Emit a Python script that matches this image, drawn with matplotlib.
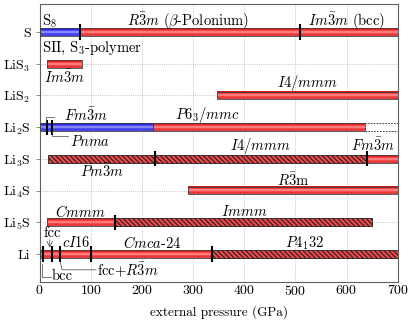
import numpy as np
import matplotlib
matplotlib.use("Agg")
import matplotlib.pyplot as plt
import matplotlib.patches as patches
from matplotlib.colors import LinearSegmentedColormap

plt.rcParams['font.family'] = 'serif'
plt.rcParams['font.serif'] = ['cmr10']
plt.rcParams['mathtext.fontset'] = 'cm'
plt.rcParams['axes.formatter.use_mathtext'] = True
plt.rcParams['hatch.linewidth'] = 0.8

# compounds, bottom to top
compounds = ['Li', 'Li$_5$S', 'Li$_4$S', 'Li$_3$S', 'Li$_2$S', 'LiS$_2$', 'LiS$_3$', 'S']

# phase segments per compound: (start GPa, end GPa, kind)
segments = {
    'S': [(0, 80, 'blue'), (80, 700, 'red')],
    'LiS$_3$': [(15, 83, 'red')],
    'LiS$_2$': [(347, 700, 'red')],
    'Li$_2$S': [(0, 222, 'blue'), (222, 637, 'red'), (637, 700, 'dashed')],
    'Li$_3$S': [(17, 640, 'hatch'), (640, 700, 'red')],
    'Li$_4$S': [(290, 700, 'red')],
    'Li$_5$S': [(15, 148, 'red'), (148, 650, 'hatch')],
    'Li': [(0, 337, 'red'), (337, 700, 'hatch')],
}

# phase transitions (GPa)
transitions = {
    'S': [80, 510],
    'Li$_2$S': [15, 24],
    'Li$_3$S': [226, 640],
    'Li$_5$S': [148],
    'Li': [6, 24, 40, 100, 337],
}

# phase names: (compound, x GPa, y offset, text, ha)
phase_labels = [
    ('S', 5, 0.33, 'S$_8$', 'left'),
    ('S', 290, 0.33, r'$R\bar{3}m$ ($\beta$-Polonium)', 'center'),
    ('S', 600, 0.33, r'$Im\bar{3}m$ (bcc)', 'center'),
    ('S', 5, -0.51, 'SII, S$_3$-polymer', 'left'),
    ('LiS$_3$', 48, -0.43, r'$Im\bar{3}m$', 'center'),
    ('LiS$_2$', 523, 0.38, r'$I4/mmm$', 'center'),
    ('Li$_2$S', 47, 0.38, r'$Fm\bar{3}m$', 'left'),
    ('Li$_2$S', 59, -0.44, r'$Pnma$', 'left'),
    ('Li$_2$S', 327, 0.38, r'$P6_3/mmc$', 'center'),
    ('Li$_3$S', 121, -0.40, r'$Pm\bar{3}m$', 'center'),
    ('Li$_3$S', 432, 0.42, r'$I4/mmm$', 'center'),
    ('Li$_3$S', 651, 0.42, r'$Fm\bar{3}m$', 'center'),
    ('Li$_4$S', 496, 0.33, r'$R\bar{3}$m', 'center'),
    ('Li$_5$S', 80, 0.33, r'$Cmmm$', 'center'),
    ('Li$_5$S', 400, 0.33, r'$Immm$', 'center'),
    ('Li', 72, 0.35, r'$cI16$', 'center'),
    ('Li', 220, 0.35, r'$Cmca$-24', 'center'),
    ('Li', 518, 0.35, r'$P4_132$', 'center'),
    ('Li', 25, 0.65, 'fcc', 'center'),
    ('Li', 24, -0.70, 'bcc', 'left'),
    ('Li', 112, -0.50, r'fcc+$R\bar{3}m$', 'left'),
]

red_cmap = LinearSegmentedColormap.from_list(
    'redbar', ['#e04545', '#f03030', '#ff9c9c', '#f42c2c', '#c81010'])
blue_cmap = LinearSegmentedColormap.from_list(
    'bluebar', ['#5050e0', '#3535f0', '#a8a8ff', '#3030f4', '#1010c0'])

fig = plt.figure(figsize=(4.16, 3.27), dpi=100)
ax = fig.add_axes([0.095, 0.1385, 0.861, 0.849])

h = 0.24
grad = np.linspace(0, 1, 64).reshape(-1, 1)
ypos = {c: i + 1 for i, c in enumerate(compounds)}

for c in compounds:
    y = ypos[c]
    for x0, x1, kind in segments[c]:
        if kind in ('red', 'blue'):
            ax.imshow(grad, extent=[x0, x1, y - h / 2, y + h / 2], origin='lower',
                      aspect='auto', cmap=red_cmap if kind == 'red' else blue_cmap,
                      zorder=2, interpolation='bilinear')
            ax.add_patch(patches.Rectangle((x0, y - h / 2), x1 - x0, h, fill=False,
                                           edgecolor='#404040', lw=0.6, zorder=3))
        elif kind == 'hatch':
            ax.add_patch(patches.Rectangle((x0, y - h / 2), x1 - x0, h, facecolor='#f04848',
                                           edgecolor='#202020', hatch='\\\\\\\\\\\\\\',
                                           lw=0.6, zorder=3))
        else:
            ax.add_patch(patches.Rectangle((x0, y - h / 2), x1 - x0, h, facecolor='white',
                                           edgecolor='#202020', ls=(0, (2, 1.5)),
                                           lw=0.6, zorder=3))
    for t in transitions.get(c, []):
        ax.plot([t, t], [y - 0.24, y + 0.24], color='black', lw=1.5, zorder=4,
                solid_capstyle='butt')

fs = 10.5
for c, x, dy, txt, ha in phase_labels:
    ax.text(x, ypos[c] + dy, txt, ha=ha, va='center', fontsize=fs, zorder=5)

# bracket lines for the small-pressure phases
lw_a = 0.5
ax.plot([12, 12, 28], [5.12, 5.31, 5.31], color='#404040', lw=lw_a, zorder=5)
ax.plot([24, 24, 56], [4.88, 4.72, 4.72], color='#404040', lw=lw_a, zorder=5)
ax.plot([4, 4, 23], [0.68, 0.27, 0.27], color='#404040', lw=lw_a, zorder=5)
ax.plot([41, 44, 110], [0.72, 0.5, 0.5], color='#404040', lw=lw_a, zorder=5)
ax.annotate('', xy=(20, 1.2), xytext=(20, 1.45),
            arrowprops=dict(arrowstyle='->', lw=0.5, color='#404040',
                            shrinkA=0, shrinkB=0), zorder=5)

ax.set_xlim(0, 700)
ax.set_ylim(0.125, 8.88)
ax.set_xticks(np.arange(0, 701, 100))
ax.set_yticks([ypos[c] for c in compounds])
ax.set_yticklabels(compounds)
ax.tick_params(axis='both', labelsize=10, length=3, width=0.5, color='#606060')
ax.tick_params(axis='x', length=0, pad=2)
ax.grid(True, ls=':', lw=0.6, color='#b0b0b0', zorder=0)
ax.set_axisbelow(True)
for s in ax.spines.values():
    s.set_color('#606060')
    s.set_linewidth(0.8)
ax.set_xlabel('external pressure (GPa)', fontsize=9.5, labelpad=5)

fig.savefig('out.png', dpi=100)
